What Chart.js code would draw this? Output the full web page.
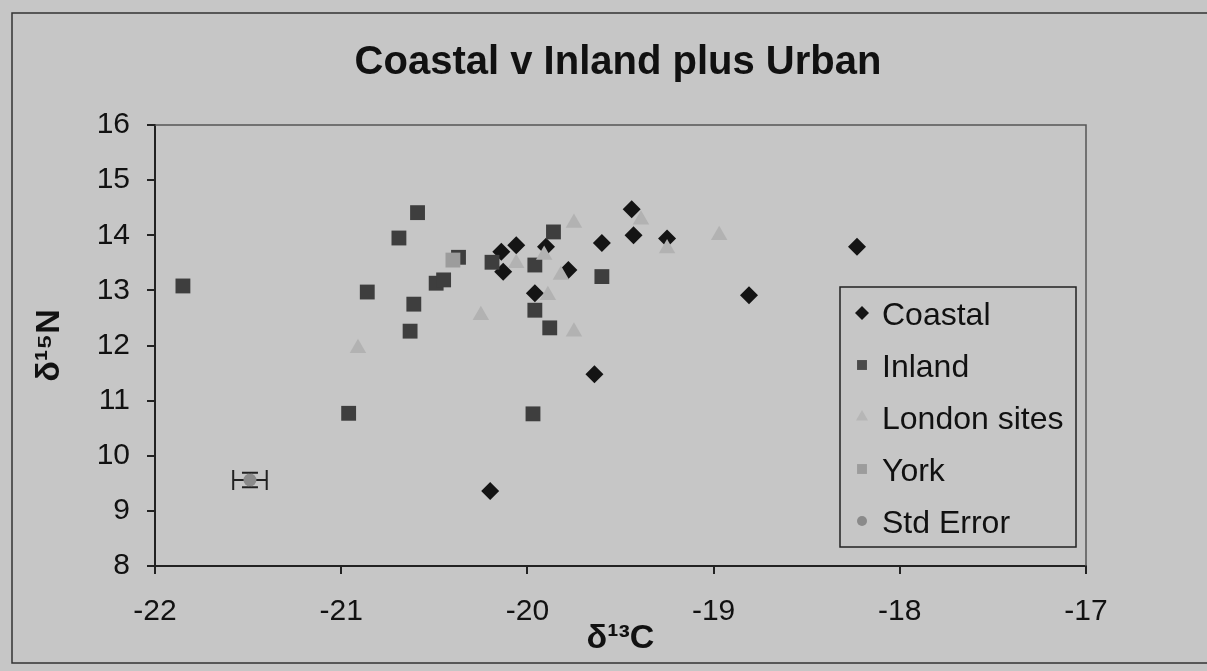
<!DOCTYPE html>
<html>
<head>
<meta charset="utf-8">
<title>Coastal v Inland plus Urban</title>
<script src="https://cdn.jsdelivr.net/npm/chart.js@4.4.0/dist/chart.umd.min.js"></script>
<style>
    html, body { margin: 0; padding: 0; background: #c6c6c6; }
    #wrap { width: 1207px; height: 671px; }
</style>
</head>
<body>
<div id="wrap"><canvas id="myChart" width="1207" height="671"></canvas></div>
<script>
// values (d13C, d15N)
const coastalX = [-19.44, -19.43, -19.60, -19.25, -20.06, -20.14, -20.13, -19.90, -19.78, -19.96, -19.64, -20.20, -18.23, -18.81];
const coastalY = [14.47, 14.00, 13.86, 13.94, 13.82, 13.70, 13.34, 13.79, 13.37, 12.95, 11.48, 9.36, 13.79, 12.91];

const inlandX = [-21.85, -20.59, -20.69, -20.86, -20.49, -20.45, -20.61, -20.63, -20.96, -20.37, -20.19, -19.96, -19.96, -19.88, -19.86, -19.60, -19.97];
const inlandY = [13.08, 14.41, 13.95, 12.97, 13.13, 13.19, 12.75, 12.26, 10.77, 13.60, 13.51, 13.46, 12.64, 12.32, 14.06, 13.25, 10.76];

const londonX = [-19.75, -19.39, -18.97, -19.25, -19.91, -20.06, -19.82, -19.89, -20.25, -19.75, -20.91];
const londonY = [14.22, 14.28, 14.00, 13.76, 13.64, 13.49, 13.28, 12.91, 12.55, 12.25, 11.95];

const yorkX = [-20.40];
const yorkY = [13.55];

const stdErrX = [-21.49];
const stdErrY = [9.56];
const stdErrXErr = [0.09];
const stdErrYErr = [0.13];

const xTicks = [-22, -21, -20, -19, -18, -17];
const yTicks = [8, 9, 10, 11, 12, 13, 14, 15, 16];

const BG = '#c6c6c6';
const FONT = '"Liberation Sans", Arial, sans-serif';

function pts(xs, ys) {
    return xs.map((x, i) => ({ x: x, y: ys[i] }));
}

Chart.defaults.font.family = FONT;

// page background and outer frame
const bgPlugin = {
    id: 'bgPlugin',
    beforeDraw(chart) {
        const c = chart.ctx;
        c.save();
        c.fillStyle = BG;
        c.fillRect(0, 0, chart.width, chart.height);
        c.strokeStyle = '#333';
        c.lineWidth = 1.5;
        c.strokeRect(12, 13, chart.width + 20, 650);
        c.restore();
    }
};

// top and right edge of the plot area
const plotFrame = {
    id: 'plotFrame',
    beforeDatasetsDraw(chart) {
        const a = chart.chartArea;
        const c = chart.ctx;
        c.save();
        c.strokeStyle = '#555';
        c.lineWidth = 1.5;
        c.beginPath();
        c.moveTo(a.left, a.top);
        c.lineTo(a.right, a.top);
        c.lineTo(a.right, a.bottom);
        c.stroke();
        c.restore();
    }
};

// error bars for the Std Error point
const errorBars = {
    id: 'errorBars',
    beforeDatasetsDraw(chart) {
        const xs = chart.scales.x, ys = chart.scales.y;
        const c = chart.ctx;
        c.save();
        c.strokeStyle = '#222';
        c.lineWidth = 2;
        stdErrX.forEach((v, i) => {
            const px = xs.getPixelForValue(v);
            const py = ys.getPixelForValue(stdErrY[i]);
            const x0 = xs.getPixelForValue(v - stdErrXErr[i]);
            const x1 = xs.getPixelForValue(v + stdErrXErr[i]);
            const y0 = ys.getPixelForValue(stdErrY[i] + stdErrYErr[i]);
            const y1 = ys.getPixelForValue(stdErrY[i] - stdErrYErr[i]);
            c.beginPath();
            c.moveTo(x0, py); c.lineTo(x1, py);
            c.moveTo(x0, py - 10); c.lineTo(x0, py + 10);
            c.moveTo(x1, py - 10); c.lineTo(x1, py + 10);
            c.moveTo(px, y0); c.lineTo(px, y1);
            c.moveTo(px - 8, y0); c.lineTo(px + 8, y0);
            c.moveTo(px - 8, y1); c.lineTo(px + 8, y1);
            c.stroke();
        });
        c.restore();
    }
};

// boxed legend sitting inside the plot area
const legendBox = {
    id: 'legendBox',
    afterDraw(chart) {
        const c = chart.ctx;
        const left = 840, top = 287, w = 236, h = 260;
        c.save();
        c.fillStyle = BG;
        c.fillRect(left, top, w, h);
        c.strokeStyle = '#222';
        c.lineWidth = 1.5;
        c.strokeRect(left, top, w, h);
        c.font = '32px ' + FONT;
        c.textBaseline = 'alphabetic';
        c.textAlign = 'left';
        chart.data.datasets.forEach((ds, i) => {
            const cy = top + 26 + i * 52;
            c.fillStyle = ds.legendColor || ds.backgroundColor;
            Chart.helpers.drawPoint(c, {
                pointStyle: ds.pointStyle,
                radius: ds.legendRadius,
                rotation: 0,
                borderWidth: 0
            }, left + 22, cy);
            c.fillStyle = '#111';
            c.fillText(ds.label, left + 42, cy + 11.5);
        });
        c.restore();
    }
};

const ctx = document.getElementById('myChart');
const myChart = new Chart(ctx, {
    type: 'scatter',
    data: {
        datasets: [
            {
                label: 'Coastal',
                data: pts(coastalX, coastalY),
                pointStyle: 'rectRot',
                pointRadius: 9,
                backgroundColor: '#141414',
                borderWidth: 0,
                legendRadius: 7,
                order: 4
            },
            {
                label: 'Inland',
                data: pts(inlandX, inlandY),
                pointStyle: 'rect',
                pointRadius: 10.5,
                backgroundColor: '#3e3e3e',
                borderWidth: 0,
                legendColor: '#4a4a4a',
                legendRadius: 7,
                order: 3
            },
            {
                label: 'London sites',
                data: pts(londonX, londonY),
                pointStyle: 'triangle',
                pointRadius: 9.5,
                backgroundColor: '#b2b2b2',
                borderWidth: 0,
                legendColor: '#b6b6b6',
                legendRadius: 7,
                order: 2
            },
            {
                label: 'York',
                data: pts(yorkX, yorkY),
                pointStyle: 'rect',
                pointRadius: 10.5,
                backgroundColor: '#9c9c9c',
                borderWidth: 0,
                legendRadius: 7,
                order: 1
            },
            {
                label: 'Std Error',
                data: pts(stdErrX, stdErrY),
                pointStyle: 'circle',
                pointRadius: 6.5,
                backgroundColor: '#8a8a8a',
                borderWidth: 0,
                legendRadius: 5,
                order: 0
            }
        ]
    },
    options: {
        responsive: false,
        animation: false,
        events: [],
        layout: { padding: { left: 29, right: 0, top: 0, bottom: 0 } },
        plugins: {
            legend: { display: false },
            tooltip: { enabled: false },
            title: {
                display: true,
                text: 'Coastal v Inland plus Urban',
                color: '#111',
                font: { size: 40, weight: 'bold' },
                padding: { top: 39, bottom: 38 }
            }
        },
        scales: {
            x: {
                type: 'linear',
                min: -22,
                max: -17,
                afterBuildTicks(s) { s.ticks = xTicks.map(v => ({ value: v })); },
                afterFit(s) { s.height = 105; },
                ticks: { color: '#111', font: { size: 30 }, padding: 20 },
                grid: { drawOnChartArea: false, tickLength: 8, color: '#222', lineWidth: 2 },
                border: { color: '#222', width: 2 },
                title: {
                    display: true,
                    text: 'δ¹³C',
                    color: '#111',
                    font: { size: 34, weight: 'bold' },
                    padding: { top: 0, bottom: 12 }
                }
            },
            y: {
                type: 'linear',
                min: 8,
                max: 16,
                afterBuildTicks(s) { s.ticks = yTicks.map(v => ({ value: v })); },
                afterFit(s) { s.width = 126; },
                ticks: { color: '#111', font: { size: 30 }, padding: 17 },
                grid: { drawOnChartArea: false, tickLength: 8, color: '#222', lineWidth: 2 },
                border: { color: '#222', width: 2 },
                title: {
                    display: true,
                    text: 'δ¹⁵N',
                    color: '#111',
                    font: { size: 34, weight: 'bold' },
                    padding: { top: 0, bottom: 0 }
                }
            },
            // empty right-hand strip so the plot ends where the reference's does
            yRight: {
                type: 'linear',
                position: 'right',
                min: 8,
                max: 16,
                afterFit(s) { s.width = 121; },
                ticks: { display: false },
                grid: { display: false },
                border: { display: false }
            }
        }
    },
    plugins: [bgPlugin, plotFrame, errorBars, legendBox]
});
</script>
</body>
</html>
